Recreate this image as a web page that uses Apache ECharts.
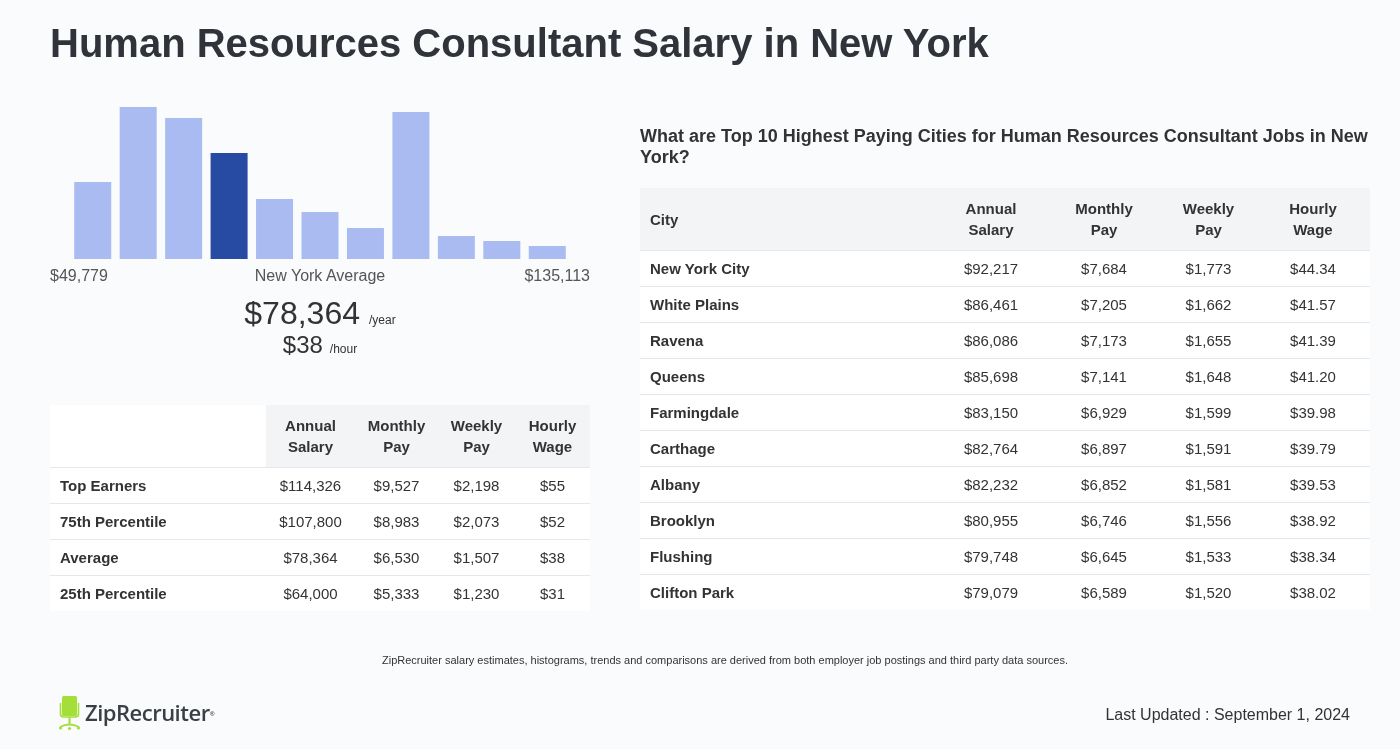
<!DOCTYPE html>
<html><head><meta charset="utf-8">
<script src="https://cdn.jsdelivr.net/npm/echarts@6/dist/echarts.min.js"></script>
<style>
html,body{margin:0;padding:0;width:1400px;height:749px;overflow:hidden;background:#f9fbfd;font-family:"Liberation Sans",Arial,sans-serif;color:#333;}
#chart{position:absolute;left:0;top:0;width:1400px;height:749px;}
.abs{position:absolute;white-space:nowrap;}
table{border-collapse:collapse;table-layout:fixed;position:absolute;font-size:15px;color:#333;}
th{font-weight:bold;background:#f3f4f6;line-height:21px;height:62px;padding:0;text-align:center;}
td{height:35px;padding:0;text-align:center;border-top:1px solid #e4e7eb;background:#fff;}
td.lab{text-align:left;padding-left:10px;font-weight:bold;}
th.lab{text-align:left;padding-left:10px;}
</style></head>
<body>
<div id="chart"></div>
<div class="abs" style="left:50px;top:18px;font-size:40px;font-weight:bold;color:#30343a;line-height:50px;" id="title"></div>
<div class="abs" style="left:50px;top:267px;font-size:16px;color:#555;line-height:18px;" id="minLab"></div>
<div class="abs" style="left:170px;width:300px;text-align:center;top:267px;font-size:16px;color:#555;line-height:18px;">New York Average</div>
<div class="abs" style="right:810px;top:267px;font-size:16px;color:#555;line-height:18px;" id="maxLab"></div>
<div class="abs" style="left:170px;width:300px;text-align:center;top:295px;line-height:36px;"><span style="font-size:32px;color:#333;" id="avgYear"></span><span style="font-size:12px;color:#333;margin-left:9px;">/year</span></div>
<div class="abs" style="left:170px;width:300px;text-align:center;top:331px;line-height:28px;"><span style="font-size:24px;color:#333;" id="avgHour"></span><span style="font-size:12px;color:#333;margin-left:7px;">/hour</span></div>
<table id="t1" style="left:50px;top:405px;width:540px;"></table>
<div class="abs" style="left:640px;top:126px;width:730px;white-space:normal;font-size:18px;font-weight:bold;line-height:21px;color:#333;" id="t2title"></div>
<table id="t2" style="left:640px;top:188px;width:730px;"></table>
<div class="abs" style="left:0;width:1450px;text-align:center;top:653px;font-size:11px;line-height:14px;color:#333;" id="note"></div>
<div class="abs" style="left:58px;top:695px;">
<svg width="24" height="36" viewBox="0 0 24 36">
<rect x="4" y="1" width="15" height="20" rx="1.5" fill="#a3df38"/>
<path d="M2.5 8 V19 Q2.5 22 5.5 22 H17.5 Q20.5 22 20.5 19 V8" fill="none" stroke="#a3df38" stroke-width="1.6"/>
<rect x="10.5" y="22" width="2" height="8" fill="#a3df38"/>
<path d="M2 32 Q11.5 27 21 32" fill="none" stroke="#a3df38" stroke-width="1.8"/>
<circle cx="2.5" cy="33" r="1.6" fill="#a3df38"/><circle cx="20.5" cy="33" r="1.6" fill="#a3df38"/><circle cx="11.5" cy="33.5" r="1.6" fill="#a3df38"/>
</svg></div>
<div class="abs" style="left:85px;top:699px;font-family:'Open Sans',sans-serif;font-weight:600;font-size:22px;line-height:26px;color:#3a3f45;letter-spacing:-0.5px;">ZipRecruiter<sup style="font-size:6px;vertical-align:top;position:relative;top:2px;">®</sup></div>
<div class="abs" style="right:50px;top:705px;font-size:16px;line-height:20px;color:#333;" id="updated"></div>
<script>
// ---- data ----
const titleText = "Human Resources Consultant Salary in New York";
const histBins = ["b1","b2","b3","b4","b5","b6","b7","b8","b9","b10","b11"];
const histCounts = [77, 152, 141, 106, 60, 47, 31, 147, 23, 18, 13];
const avgBinIndex = 3;
const minSalary = "$49,779";
const maxSalary = "$135,113";
const avgYear = "$78,364";
const avgHour = "$38";
const pctHeaders = ["", "Annual<br>Salary", "Monthly<br>Pay", "Weekly<br>Pay", "Hourly<br>Wage"];
const pctLabels = ["Top Earners", "75th Percentile", "Average", "25th Percentile"];
const pctAnnual = ["$114,326", "$107,800", "$78,364", "$64,000"];
const pctMonthly = ["$9,527", "$8,983", "$6,530", "$5,333"];
const pctWeekly = ["$2,198", "$2,073", "$1,507", "$1,230"];
const pctHourly = ["$55", "$52", "$38", "$31"];
const cityTitle = "What are Top 10 Highest Paying Cities for Human Resources Consultant Jobs in New York?";
const cityHeaders = ["City", "Annual<br>Salary", "Monthly<br>Pay", "Weekly<br>Pay", "Hourly<br>Wage"];
const cities = ["New York City","White Plains","Ravena","Queens","Farmingdale","Carthage","Albany","Brooklyn","Flushing","Clifton Park"];
const cityAnnual = ["$92,217","$86,461","$86,086","$85,698","$83,150","$82,764","$82,232","$80,955","$79,748","$79,079"];
const cityMonthly = ["$7,684","$7,205","$7,173","$7,141","$6,929","$6,897","$6,852","$6,746","$6,645","$6,589"];
const cityWeekly = ["$1,773","$1,662","$1,655","$1,648","$1,599","$1,591","$1,581","$1,556","$1,533","$1,520"];
const cityHourly = ["$44.34","$41.57","$41.39","$41.20","$39.98","$39.79","$39.53","$38.92","$38.34","$38.02"];
const noteText = "ZipRecruiter salary estimates, histograms, trends and comparisons are derived from both employer job postings and third party data sources.";
const updatedText = "Last Updated : September 1, 2024";

// ---- text ----
document.getElementById('title').textContent = titleText;
document.getElementById('minLab').textContent = minSalary;
document.getElementById('maxLab').textContent = maxSalary;
document.getElementById('avgYear').textContent = avgYear;
document.getElementById('avgHour').textContent = avgHour;
document.getElementById('t2title').textContent = cityTitle;
document.getElementById('note').textContent = noteText;
document.getElementById('updated').textContent = updatedText;

function buildTable(id, headers, widths, labels, cols, firstHeaderWhite){
  const t = document.getElementById(id);
  let h = '<colgroup>' + widths.map(w=>'<col style="width:'+w+'px">').join('') + '</colgroup><tr>';
  headers.forEach((x,i)=>{
    const st = (i===0 && firstHeaderWhite) ? ' style="background:#fff"' : '';
    h += '<th' + (i===0?' class="lab"':'') + st + '>' + x + '</th>';
  });
  h += '</tr>';
  labels.forEach((l,r)=>{
    h += '<tr><td class="lab">' + l + '</td>' + cols.map(c=>'<td>'+c[r]+'</td>').join('') + '</tr>';
  });
  t.innerHTML = h;
}
buildTable('t1', pctHeaders, [216, 89, 83, 77, 75], pctLabels, [pctAnnual, pctMonthly, pctWeekly, pctHourly], true);
buildTable('t2', cityHeaders, [295, 112, 114, 95, 114], cities, [cityAnnual, cityMonthly, cityWeekly, cityHourly], false);

// ---- histogram ----
const chart = echarts.init(document.getElementById('chart'), null, {renderer:'canvas'});
chart.setOption({
  backgroundColor: 'transparent',
  animation: false,
  grid: {left: 70, top: 107, width: 500, height: 152},
  xAxis: {type: 'category', data: histBins, show: false},
  yAxis: {type: 'value', min: 0, max: 152, show: false},
  series: [{
    type: 'bar',
    barWidth: 37,
    data: histCounts.map((v,i)=>({value: v, itemStyle: {color: i===avgBinIndex ? '#274aa2' : '#a9bbf1'}}))
  }]
});
</script>
</body></html>
